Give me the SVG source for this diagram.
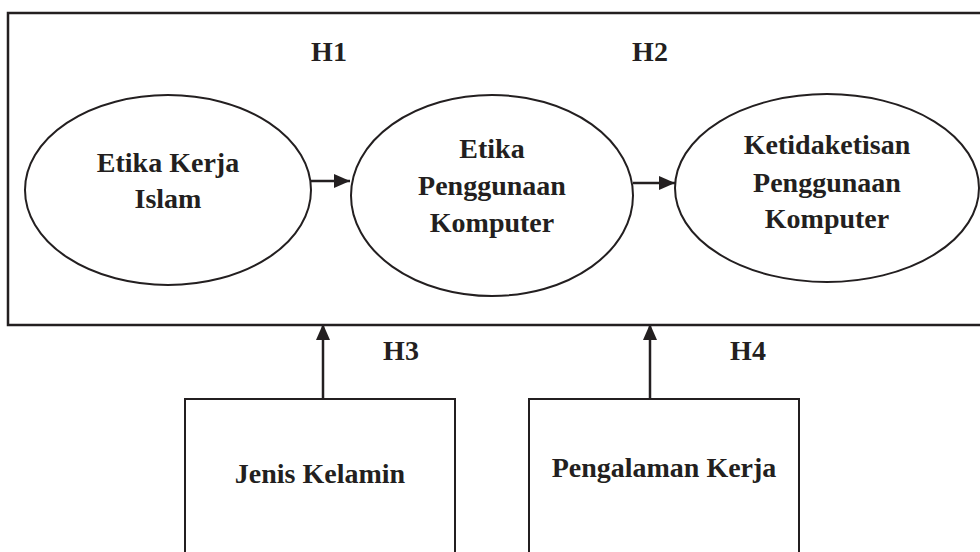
<svg xmlns="http://www.w3.org/2000/svg" width="980" height="552" viewBox="0 0 980 552">
<style>
.t{font-family:"Liberation Serif","Times New Roman",serif;font-weight:bold;font-size:28px;fill:#231f20;text-anchor:middle}
.s{fill:#fff;stroke:#231f20;stroke-width:2}
.c{stroke:#231f20;stroke-width:2.5;fill:none}
</style>
<defs>
<marker id="ah" markerUnits="userSpaceOnUse" markerWidth="16" markerHeight="14" refX="16" refY="7" orient="auto">
<path d="M0,0 L16,7 L0,14 Z" fill="#231f20"/>
</marker>
</defs>
<rect width="980" height="552" fill="#fff"/>
<g id="frame">
<rect x="8" y="13" width="990" height="312" fill="none" stroke="#231f20" stroke-width="2.5"/>
</g>
<g id="labels">
<text class="t" x="329" y="61">H1</text>
<text class="t" x="650" y="61">H2</text>
<text class="t" x="401" y="360">H3</text>
<text class="t" x="748" y="360">H4</text>
</g>
<g id="n1">
<ellipse class="s" cx="168" cy="190" rx="143" ry="95"/>
<text class="t" x="168" y="172">Etika Kerja</text>
<text class="t" x="168" y="208">Islam</text>
</g>
<g id="n2">
<ellipse class="s" cx="492" cy="195.5" rx="141" ry="100.5"/>
<text class="t" x="492" y="158">Etika</text>
<text class="t" x="492" y="195">Penggunaan</text>
<text class="t" x="492" y="232">Komputer</text>
</g>
<g id="n3">
<ellipse class="s" cx="827" cy="188" rx="152" ry="94"/>
<text class="t" x="827" y="154">Ketidaketisan</text>
<text class="t" x="827" y="192">Penggunaan</text>
<text class="t" x="827" y="228">Komputer</text>
</g>
<g id="n4">
<rect class="s" x="185" y="399" width="270" height="170"/>
<text class="t" x="320" y="483">Jenis Kelamin</text>
</g>
<g id="n5">
<rect class="s" x="529" y="399" width="270" height="170"/>
<text class="t" x="664" y="477">Pengalaman Kerja</text>
</g>
<g id="connectors">
<line class="c" x1="311" y1="181" x2="350" y2="181" marker-end="url(#ah)"/>
<line class="c" x1="633" y1="183" x2="675" y2="183" marker-end="url(#ah)"/>
<line class="c" x1="323" y1="399" x2="323" y2="324" marker-end="url(#ah)"/>
<line class="c" x1="650" y1="399" x2="650" y2="324" marker-end="url(#ah)"/>
</g>
</svg>
